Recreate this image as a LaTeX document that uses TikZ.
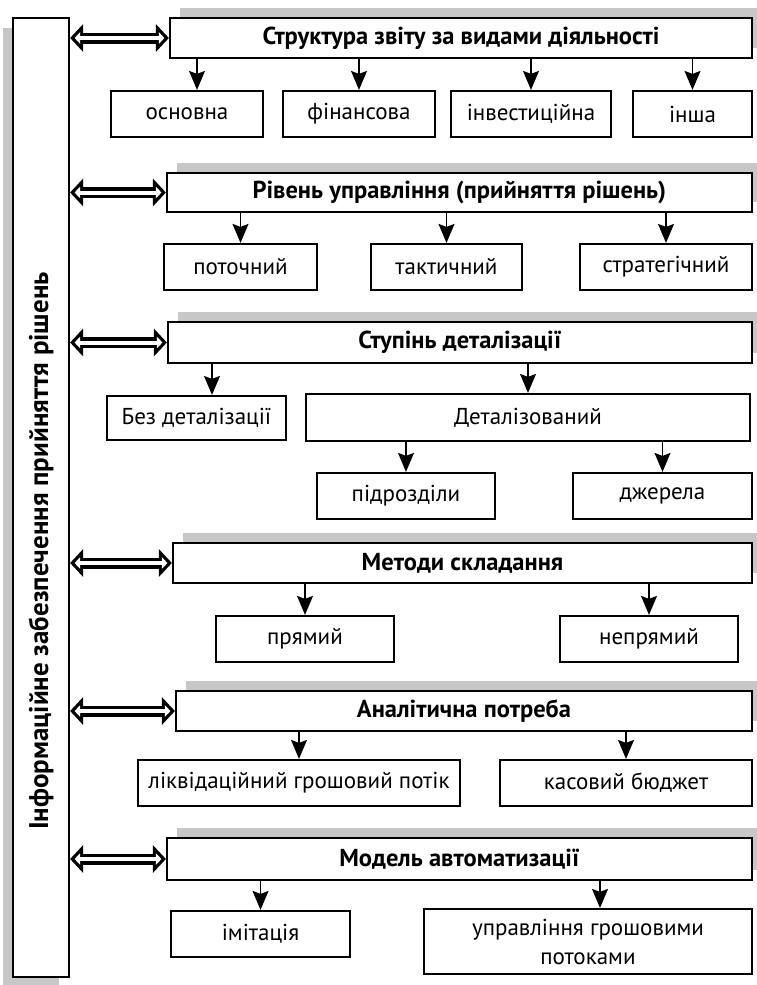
\documentclass[tikz,border=0pt]{standalone}
\usepackage{fontspec}
\setmainfont{PT Sans}
\usetikzlibrary{positioning,calc,arrows.meta,shadows}

\tikzset{
    bigtip/.tip={Triangle[length=13pt,width=27pt,color=black]},
    smalltip/.tip={Triangle[length=5.5pt,width=11.4pt,color=white]},
    downtip/.tip={Stealth[length=19pt,width=16pt,inset=3pt]},
    box/.style={draw, line width=2.2pt, fill=white, inner sep=2pt, align=center,
        minimum height=46pt, font=\fontsize{23}{29}\selectfont},
    head/.style={box, minimum height=40pt, font=\fontsize{24.5}{29}\selectfont\bfseries,
        drop shadow={shadow xshift=10pt, shadow yshift=10pt, opacity=1, fill=black!22}},
    leftshade/.style={drop shadow={shadow xshift=-10pt, shadow yshift=-10pt, opacity=1, fill=black!22}},
    arr/.style={line width=1.3pt, -downtip},
    dblarr/.style={white, line width=4pt, shorten <=4.5pt, shorten >=4.5pt, smalltip-smalltip,
        preaction={draw=black, line width=11pt, shorten <=0pt, shorten >=0pt, arrows=bigtip-bigtip}}
}

\begin{document}
\begin{tikzpicture}[x=1pt,y=-1pt]
    \useasboundingbox (0,0) rectangle (757,985);

    % left column
    \node[box, leftshade, minimum width=56pt, minimum height=959pt] (info) at (41,497.5) {};
    \node[rotate=90, font=\fontsize{27}{29}\selectfont\bfseries] (infotext) at (41,551)
        {Інформаційне забезпечення прийняття рішень};

    % row 1
    \node[head, minimum width=582pt] (h1) at (461,38) {Структура звіту за видами діяльності};
    \node[box, minimum width=152pt] (osn) at (187,114) {основна};
    \node[box, minimum width=152pt] (fin) at (359,114) {фінансова};
    \node[box, minimum width=160pt] (inv) at (531,114) {інвестиційна};
    \node[box, minimum width=119pt] (insh) at (692.5,114) {інша};

    % row 2
    \node[head, minimum width=585pt, minimum height=39pt] (h2) at (459.5,192.5) {Рівень управління (прийняття рішень)};
    \node[box, minimum width=153pt] (poto) at (240.5,267) {поточний};
    \node[box, minimum width=151pt] (takt) at (446.5,267) {тактичний};
    \node[box, minimum width=172pt] (strat) at (666,267) {стратегічний};

    % row 3
    \node[head, minimum width=584pt, minimum height=41pt] (h3) at (460,342.5) {Ступінь деталізації};
    \node[box, minimum width=179pt, minimum height=44pt] (bez) at (196.5,418) {Без деталізації};
    \node[box, minimum width=444pt, minimum height=47pt] (det) at (528,417.5) {Деталізований};
    \node[box, minimum width=178pt] (pidr) at (406,496) {підрозділи};
    \node[box, minimum width=179pt] (dzh) at (662.5,496) {джерела};

    % row 4
    \node[head, minimum width=579pt] (h4) at (462.5,563) {Методи складання};
    \node[box, minimum width=178pt] (pr) at (305,639) {прямий};
    \node[box, minimum width=178pt] (nepr) at (649,639) {непрямий};

    % row 5
    \node[head, minimum width=576pt] (h5) at (464,711) {Аналітична потреба};
    \node[box, minimum width=322pt] (likv) at (299,783) {ліквідаційний грошовий потік};
    \node[box, minimum width=252pt] (kas) at (626,783) {касовий бюджет};

    % row 6
    \node[head, minimum width=585pt, minimum height=42pt] (h6) at (459.5,859) {Модель автоматизації};
    \node[box, minimum width=179pt] (imit) at (260.5,934) {імітація};
    \node[box, minimum width=328pt, minimum height=65pt] (upr) at (588,941.5) {управління грошовими\\потоками};

    % double arrows
    \foreach \h in {h1,h2,h3,h4,h5,h6}
        \draw[dblarr] (info.east |- \h.west) -- (\h.west);

    % down arrows
    \coordinate (osnin) at ($(osn.north)+(10,0)$);
    \coordinate (bezin) at ($(bez.north)+(15.5,0)$);
    \coordinate (uprin) at ($(upr.north)+(12,0)$);
    \draw[arr] (osnin |- h1.south) -- (osnin);
    \foreach \n in {fin,inv,insh}
        \draw[arr] (h1.south -| \n.north) -- (\n.north);
    \foreach \n in {poto,takt,strat}
        \draw[arr] (h2.south -| \n.north) -- (\n.north);
    \draw[arr] (bezin |- h3.south) -- (bezin);
    \draw[arr] (h3.south -| det.north) -- (det.north);
    \foreach \n in {pidr,dzh}
        \draw[arr] (det.south -| \n.north) -- (\n.north);
    \foreach \n in {pr,nepr}
        \draw[arr] (h4.south -| \n.north) -- (\n.north);
    \foreach \n in {likv,kas}
        \draw[arr] (h5.south -| \n.north) -- (\n.north);
    \draw[arr] (h6.south -| imit.north) -- (imit.north);
    \draw[arr] (uprin |- h6.south) -- (uprin);
\end{tikzpicture}
\end{document}
